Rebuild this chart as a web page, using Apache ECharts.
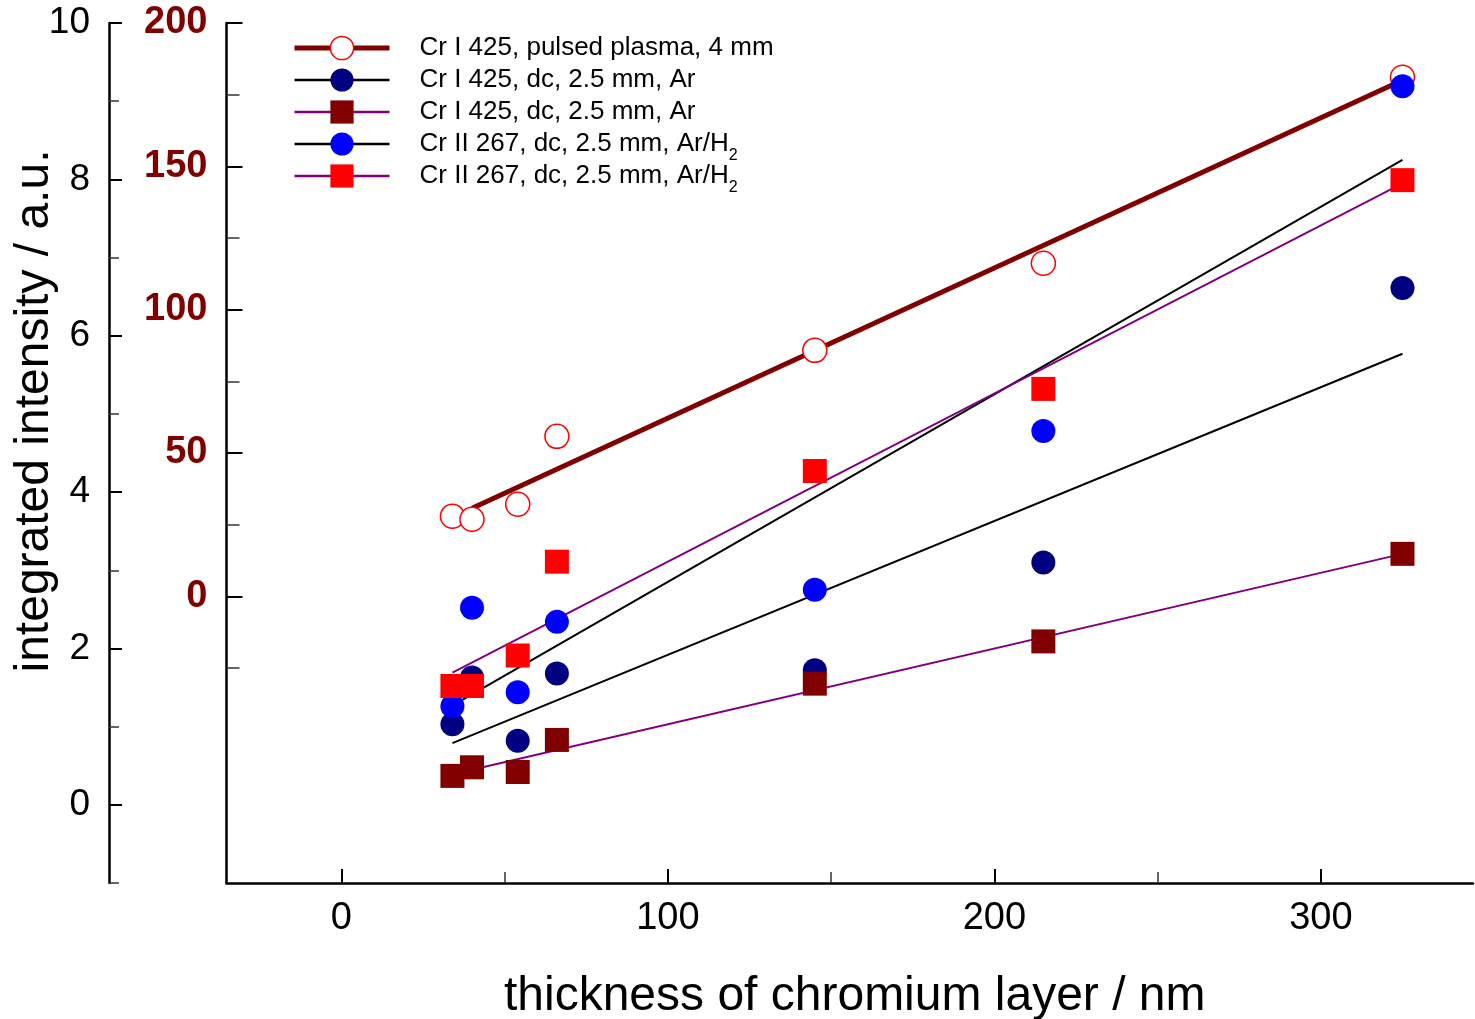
<!DOCTYPE html>
<html><head><meta charset="utf-8">
<script src="https://cdn.jsdelivr.net/npm/echarts@6/dist/echarts.min.js"></script>
<style>html,body{margin:0;padding:0;background:#fff}#c{width:1475px;height:1019px}</style>
</head><body><div id="c"></div>
<script>
const FONT = 'Liberation Sans, Arial, Helvetica, sans-serif';

// thickness of chromium layer / nm
const thickness = [34, 40, 54, 66, 145, 215, 325];
// Cr I 425, pulsed plasma, 4 mm  (right/inner axis, 0..200)
const pulsedCrI425 = [27.9, 26.9, 32.1, 55.8, 85.8, 116.2, 181.1];
// Cr I 425, dc, 2.5 mm, Ar (navy circles) (outer axis 0..10)
const dcArCrI425Circles = [1.03, 1.63, 0.82, 1.68, 1.72, 3.10, 6.61];
// Cr I 425, dc, 2.5 mm, Ar (maroon squares)
const dcArCrI425Squares = [0.37, 0.48, 0.42, 0.83, 1.55, 2.09, 3.21];
// Cr II 267, dc, 2.5 mm, Ar/H2 (blue circles)
const dcArH2CrII267Circles = [1.26, 2.52, 1.44, 2.34, 2.75, 4.78, 9.19];
// Cr II 267, dc, 2.5 mm, Ar/H2 (red squares)
const dcArH2CrII267Squares = [1.52, 1.52, 1.91, 3.11, 4.27, 5.32, 7.99];

// fitted lines: end points
const fitX = [34, 325];
const pulsedFitX = [40, 325];
const pulsedFitY = [30.7, 180.0];
const fitCrI425CirclesY = [0.79, 5.77];
const fitCrI425SquaresY = [0.39, 3.21];
const fitCrII267CirclesY = [1.27, 8.25];
const fitCrII267SquaresY = [1.69, 7.95];

// ticks
const leftTicks = [0, 2, 4, 6, 8, 10];
const leftMinorTicks = [-1, 1, 3, 5, 7, 9];
const innerTicks = [0, 50, 100, 150, 200];
const innerMinorTicks = [-25, 25, 75, 125, 175];
const xTicks = [0, 100, 200, 300];
const xMinorTicks = [50, 150, 250];

const legendLabels = {
  fitPulsed: 'Cr I 425, pulsed plasma, 4 mm',
  fitCrI425C: 'Cr I 425, dc, 2.5 mm, Ar',
  fitCrI425S: 'Cr I 425, dc, 2.5 mm, Ar',
  fitCrII267C: 'Cr II 267, dc, 2.5 mm, Ar/H{sub|2}',
  fitCrII267S: 'Cr II 267, dc, 2.5 mm, Ar/H{sub|2}'
};

function pairs(xs, ys) { return xs.map((x, i) => [x, ys[i]]); }

const NAVY = '#000080', MAROON = '#800000', BLUE = '#0000ff', RED = '#ff0000', PURPLE = '#800080';

function fitLine(name, xs, ys, yIdx, lineColor, width, symbol, itemStyle) {
  return {
    name: name, type: 'line', xAxisIndex: 0, yAxisIndex: yIdx,
    data: pairs(xs, ys), showSymbol: false, symbol: symbol,
    lineStyle: { color: lineColor, width: width },
    itemStyle: itemStyle, silent: true, z: 2
  };
}
function scatter(name, ys, yIdx, symbol, itemStyle) {
  return {
    name: name, type: 'scatter', xAxisIndex: 0, yAxisIndex: yIdx,
    data: pairs(thickness, ys), symbol: symbol, symbolSize: 24,
    itemStyle: Object.assign({ opacity: 1 }, itemStyle), silent: true, z: 3
  };
}

const chart = echarts.init(document.getElementById('c'), null, { renderer: 'canvas' });
const yBase = { type: 'value', splitLine: { show: false } };
chart.setOption({
  animation: false,
  backgroundColor: '#fff',
  textStyle: { fontFamily: FONT },
  grid: { left: 226.5, right: 2, top: 23, bottom: 136, containLabel: false, outerBoundsMode: 'none' },
  legend: {
    left: 292, top: 28, orient: 'vertical', padding: 0,
    itemWidth: 95, itemHeight: 29, itemGap: -8,
    selectedMode: false,
    formatter: n => legendLabels[n],
    textStyle: {
      fontSize: 26, color: '#000', fontFamily: FONT, lineHeight: 40, padding: [0, 0, 0, 25],
      rich: { sub: { fontSize: 16, lineHeight: 40, verticalAlign: 'bottom', fontFamily: FONT, color: '#000' } }
    },
    data: [
      { name: 'fitPulsed', itemStyle: { borderWidth: 1.5 }, lineStyle: { width: 5, color: MAROON } },
      { name: 'fitCrI425C', lineStyle: { width: 2.5 } },
      { name: 'fitCrI425S', lineStyle: { width: 2.5 } },
      { name: 'fitCrII267C', lineStyle: { width: 2.5 } },
      { name: 'fitCrII267S', lineStyle: { width: 2.5 } }
    ]
  },
  xAxis: [
    {
      type: 'value', min: -35.2, max: 346.6, position: 'bottom',
      axisLine: { onZero: false, lineStyle: { color: '#000', width: 2.5 } },
      axisTick: { inside: true, length: 14, customValues: xTicks, lineStyle: { color: '#000', width: 2 } },
      axisLabel: { customValues: xTicks, fontSize: 38, color: '#000', margin: 17, fontFamily: FONT },
      splitLine: { show: false },
      name: 'thickness of chromium layer / nm', nameLocation: 'middle', nameGap: 90,
      nameTextStyle: { fontSize: 48, color: '#000', fontFamily: FONT, padding: [0, 0, 0, 10] }
    },
    {
      type: 'value', min: -35.2, max: 346.6, position: 'bottom',
      axisLine: { show: false, onZero: false },
      axisTick: { inside: true, length: 11, customValues: xMinorTicks, lineStyle: { color: '#333', width: 1.5 } },
      axisLabel: { show: false }, splitLine: { show: false }
    }
  ],
  yAxis: [
    Object.assign({}, yBase, {
      min: -1, max: 10, position: 'left', offset: 117.5,
      axisLine: { show: true, onZero: false, lineStyle: { color: '#000', width: 2.5 } },
      axisTick: { show: true, inside: true, length: 13, customValues: leftTicks, lineStyle: { color: '#000', width: 2 } },
      axisLabel: { customValues: leftTicks, fontSize: 37, color: '#000', margin: 19, fontFamily: FONT, padding: [9, 0, 0, 0] }
    }),
    Object.assign({}, yBase, {
      min: -100, max: 200, position: 'left', offset: 0,
      axisLine: { show: true, onZero: false, lineStyle: { color: '#000', width: 2.5 } },
      axisTick: { show: true, inside: true, length: 16, customValues: innerTicks, lineStyle: { color: '#000', width: 2 } },
      axisLabel: { customValues: innerTicks, fontSize: 38, fontWeight: 'bold', color: MAROON, margin: 19, fontFamily: FONT, padding: [9, 0, 0, 0] }
    }),
    Object.assign({}, yBase, {
      min: -1, max: 10, position: 'left', offset: 117.5,
      axisLine: { show: false, onZero: false },
      axisTick: { show: true, inside: true, length: 10, customValues: leftMinorTicks, lineStyle: { color: '#333', width: 1.5 } },
      axisLabel: { show: false }
    }),
    Object.assign({}, yBase, {
      min: -100, max: 200, position: 'left', offset: 0,
      axisLine: { show: false, onZero: false },
      axisTick: { show: true, inside: true, length: 13, customValues: innerMinorTicks, lineStyle: { color: '#333', width: 1.5 } },
      axisLabel: { show: false }
    })
  ],
  graphic: [{
    type: 'text', x: 35, y: 411, rotation: Math.PI / 2,
    style: { text: 'integrated intensity / a.u.', fontSize: 48, fontFamily: FONT, fill: '#000', align: 'center', verticalAlign: 'middle' }
  }],
  series: [
    fitLine('fitPulsed', pulsedFitX, pulsedFitY, 1, MAROON, 5, 'circle', { color: '#fff', borderColor: RED, borderWidth: 1.5 }),
    fitLine('fitCrI425C', fitX, fitCrI425CirclesY, 0, '#000', 2, 'circle', { color: NAVY }),
    fitLine('fitCrI425S', fitX, fitCrI425SquaresY, 0, PURPLE, 2, 'rect', { color: MAROON }),
    fitLine('fitCrII267C', fitX, fitCrII267CirclesY, 0, '#000', 2, 'circle', { color: BLUE }),
    fitLine('fitCrII267S', fitX, fitCrII267SquaresY, 0, PURPLE, 2, 'rect', { color: RED }),
    scatter('ptsPulsed', pulsedCrI425, 1, 'circle', { color: '#fff', borderColor: RED, borderWidth: 1.5 }),
    scatter('ptsCrI425C', dcArCrI425Circles, 0, 'circle', { color: NAVY }),
    scatter('ptsCrI425S', dcArCrI425Squares, 0, 'rect', { color: MAROON }),
    scatter('ptsCrII267C', dcArH2CrII267Circles, 0, 'circle', { color: BLUE }),
    scatter('ptsCrII267S', dcArH2CrII267Squares, 0, 'rect', { color: RED })
  ]
});
</script></body></html>
